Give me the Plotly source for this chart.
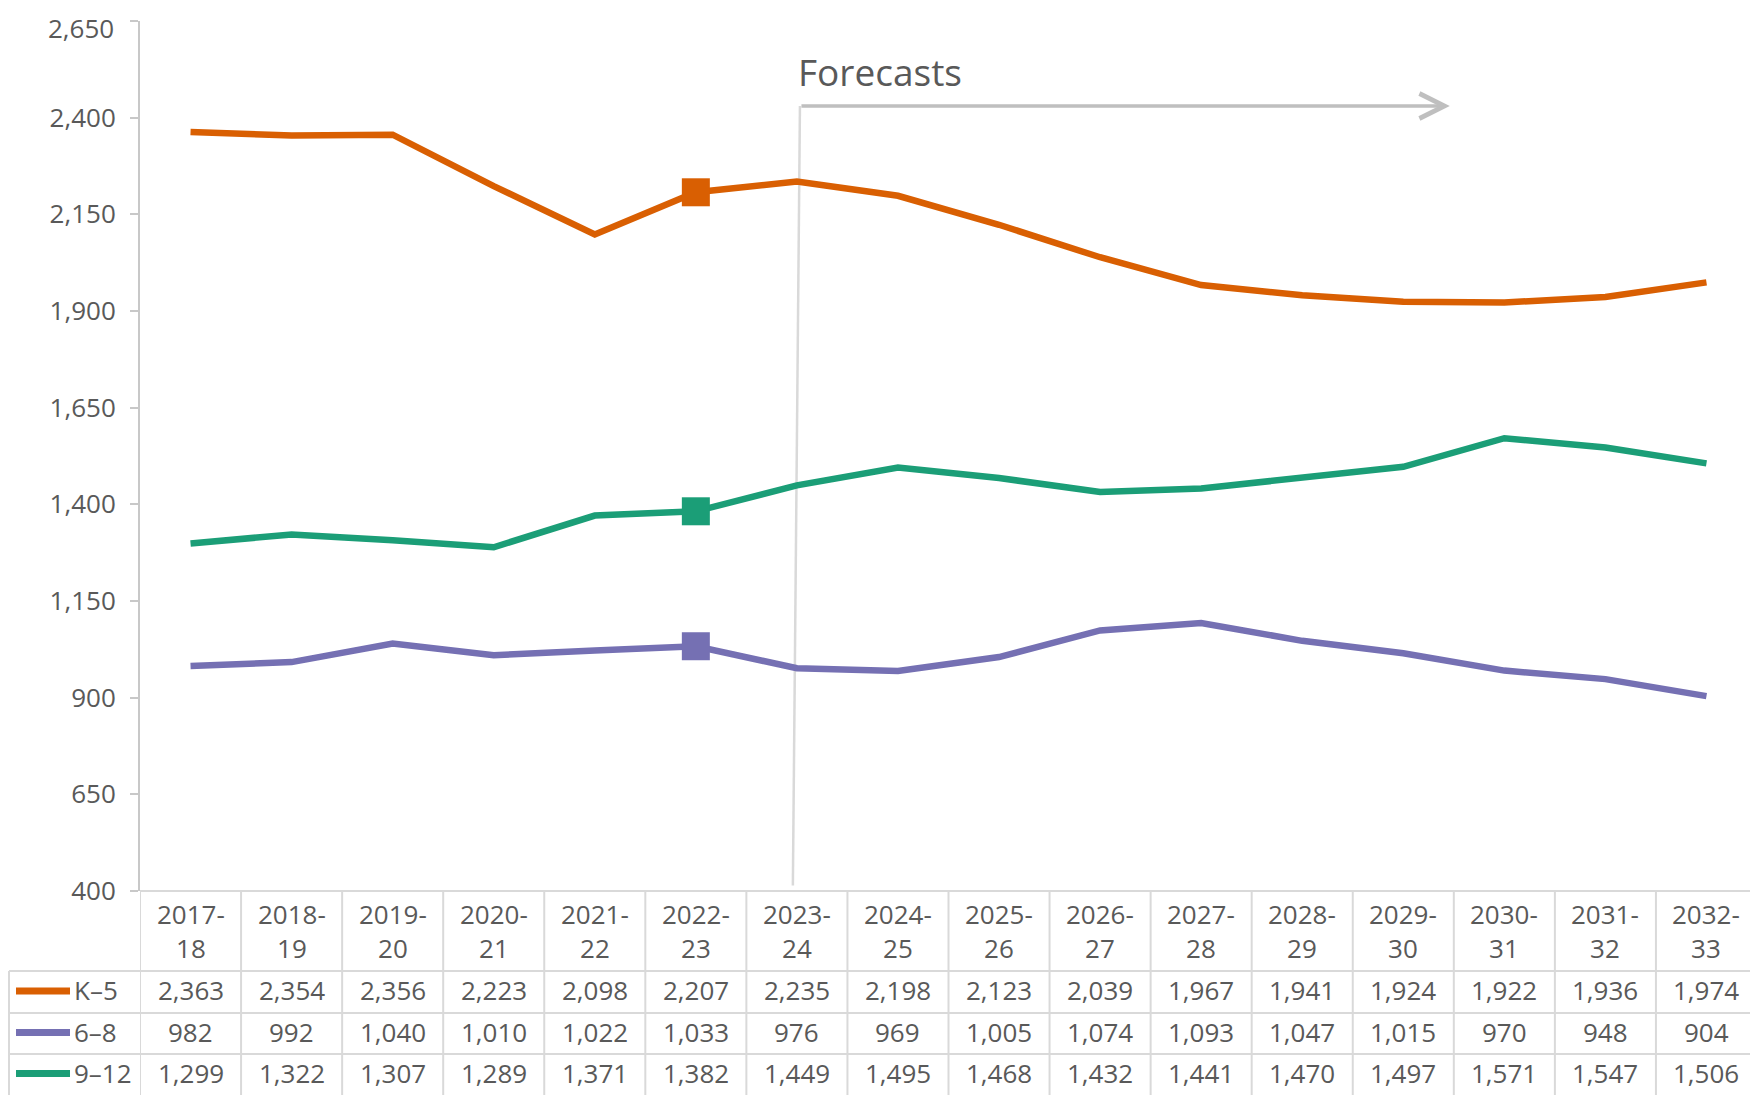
import plotly.graph_objects as go

years = ["2017-18", "2018-19", "2019-20", "2020-21", "2021-22", "2022-23", "2023-24", "2024-25",
         "2025-26", "2026-27", "2027-28", "2028-29", "2029-30", "2030-31", "2031-32", "2032-33"]
k5 = [2363, 2354, 2356, 2223, 2098, 2207, 2235, 2198, 2123, 2039, 1967, 1941, 1924, 1922, 1936, 1974]
g68 = [982, 992, 1040, 1010, 1022, 1033, 976, 969, 1005, 1074, 1093, 1047, 1015, 970, 948, 904]
g912 = [1299, 1322, 1307, 1289, 1371, 1382, 1449, 1495, 1468, 1432, 1441, 1470, 1497, 1571, 1547, 1506]
series_names = ["K–5", "6–8", "9–12"]
series_values = [k5, g68, g912]
series_colors = ["#D95F02", "#7570B3", "#1B9E77"]
y_ticks = [400, 650, 900, 1150, 1400, 1650, 1900, 2150, 2400, 2650]
last_actual = 5  # 2022-23 marked

# page has an 8px body margin: figure is offset by 8px
OFF = 8
W, H = 1758 - OFF, 1095 - OFF
PLOT_L, PLOT_T, PLOT_B, PLOT_R = 140, 21, 891, 1757   # page pixels
L, T = PLOT_L - OFF, PLOT_T - OFF
B = H - (PLOT_B - OFF)
R = W - (PLOT_R - OFF)
PW, PH = PLOT_R - PLOT_L, PLOT_B - PLOT_T
FONT = "Open Sans"
TXT = "#595959"
GRID = "#d9d9d9"


def py(p):
    return (PLOT_B - p) / PH


def px(p):
    return (p - PLOT_L) / PW


fig = go.Figure()
for name, vals, col in zip(series_names, series_values, series_colors):
    fig.add_trace(go.Scatter(x=years, y=vals, mode="lines", name=name,
                             line=dict(color=col, width=6.5), showlegend=False))
    fig.add_trace(go.Scatter(x=[years[last_actual]], y=[vals[last_actual]], mode="markers",
                             marker=dict(symbol="square", size=28, color=col),
                             showlegend=False))

shapes = []
annotations = []

# Forecast line + arrow
shapes.append(dict(type="line", xref="x", yref="y", x0=6.03, y0=2430, x1=5.96, y1=414,
                   line=dict(color=GRID, width=2.5), layer="below"))
annotations.append(dict(x=12.46, y=2430, ax=6.03, ay=2430, xref="x", yref="y", axref="x", ayref="y",
                        text="", showarrow=True, arrowhead=5, arrowwidth=3.5, arrowsize=1.4,
                        arrowcolor="#bfbfbf"))
annotations.append(dict(x=5.99, y=2519, xref="x", yref="y", text="Forecasts", showarrow=False,
                        xanchor="left", yanchor="middle", font=dict(family=FONT, size=37, color=TXT)))

# Top tick label placed inside the figure so it is not clipped by the page edge
tick_text = [f"{v:,}" for v in y_ticks]
annotations.append(dict(x=px(116), y=py(OFF), xref="paper", yref="paper", text=tick_text[-1],
                        xanchor="right", yanchor="top", showarrow=False,
                        font=dict(family=FONT, size=26, color=TXT)))
tick_text[-1] = ""

# Data table
row_tops = [971, 1013, 1054]
row_centers = [990, 1031.5, 1072.5]
for k in range(len(years) + 1):
    shapes.append(dict(type="line", xref="x", yref="paper", x0=k - 0.5, x1=k - 0.5,
                       y0=0, y1=py(1095), line=dict(color=GRID, width=2)))
shapes.append(dict(type="line", xref="paper", yref="paper", x0=0, x1=1, y0=0, y1=0,
                   line=dict(color=GRID, width=2)))
for rt in row_tops:
    shapes.append(dict(type="line", xref="paper", yref="paper", x0=px(9), x1=1, y0=py(rt), y1=py(rt),
                       line=dict(color=GRID, width=2)))
shapes.append(dict(type="line", xref="paper", yref="paper", x0=px(9), x1=px(9), y0=py(971), y1=py(1095),
                   line=dict(color=GRID, width=2)))

for i, yr in enumerate(years):
    a, b = yr.split("-")
    annotations.append(dict(x=yr, y=py(931), xref="x", yref="paper", text=f"{a}-<br>{b}",
                            xanchor="center", yanchor="middle",
                            showarrow=False, font=dict(family=FONT, size=26, color=TXT)))

for name, vals, col, yc in zip(series_names, series_values, series_colors, row_centers):
    shapes.append(dict(type="line", xref="paper", yref="paper", x0=px(16), x1=px(70),
                       y0=py(yc + 1), y1=py(yc + 1), line=dict(color=col, width=7)))
    annotations.append(dict(x=px(72), y=py(yc), xref="paper", yref="paper", text=name,
                            xanchor="left", yanchor="middle",
                            showarrow=False, font=dict(family=FONT, size=26, color=TXT)))
    for yr, v in zip(years, vals):
        annotations.append(dict(x=yr, y=py(yc), xref="x", yref="paper", text=f"{v:,}",
                                xanchor="center", yanchor="middle",
                                showarrow=False, font=dict(family=FONT, size=26, color=TXT)))

fig.update_layout(
    width=W, height=H,
    margin=dict(l=L, r=R, t=T, b=B, autoexpand=False),
    paper_bgcolor="white", plot_bgcolor="white",
    shapes=shapes, annotations=annotations,
    xaxis=dict(type="category", categoryorder="array", categoryarray=years, range=[-0.5, 15.5],
               showticklabels=False, showgrid=False, zeroline=False, showline=False, ticks="",
               automargin=False),
    yaxis=dict(range=[400, 2650], tickvals=y_ticks, ticktext=tick_text,
               showgrid=False, zeroline=False, showline=True, linecolor="#c8c8c8", linewidth=2,
               ticks="outside", ticklen=8, tickwidth=2, tickcolor="#c8c8c8", automargin=False,
               ticklabelstandoff=9, tickfont=dict(family=FONT, size=26, color=TXT)),
)

fig.write_html("out.html")
